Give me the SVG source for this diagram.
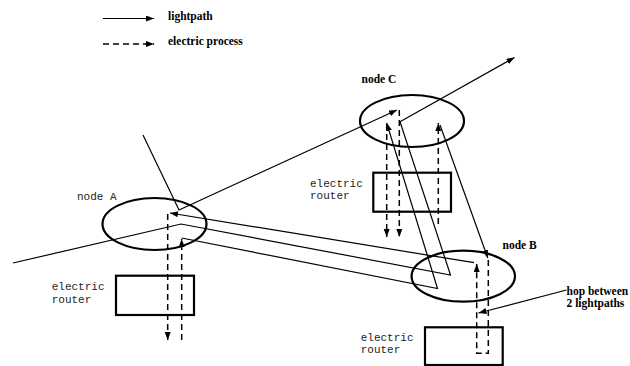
<svg xmlns="http://www.w3.org/2000/svg" width="630" height="366" viewBox="0 0 630 366">
<style>
.bg{fill:#fff}
.node{fill:none;stroke:#000;stroke-width:2.2}
.router{fill:none;stroke:#000;stroke-width:2.2}
.lp{fill:none;stroke:#000;stroke-width:1.2}
.ep{fill:none;stroke:#000;stroke-width:1.5;stroke-dasharray:6,4}
.lbl{font-family:"Liberation Serif",serif;font-weight:bold;font-size:11.5px;fill:#000}
.mono{font-family:"Liberation Mono",monospace;font-size:11px;fill:#222}
</style>
<defs>
<marker id="ah" markerUnits="userSpaceOnUse" markerWidth="9" markerHeight="7" refX="8" refY="3" orient="auto">
<path d="M0,0 L8,3 L0,6 z" fill="#000"/>
</marker>
</defs>
<rect class="bg" x="0" y="0" width="630" height="366"/>

<g id="legend">
<line class="lp" x1="103" y1="18.5" x2="154" y2="18.5" marker-end="url(#ah)"/>
<text class="lbl" x="168" y="20">lightpath</text>
<line class="ep" x1="103" y1="44" x2="154" y2="44" marker-end="url(#ah)"/>
<text class="lbl" x="168" y="45">electric process</text>
</g>

<g id="nodeA">
<ellipse class="node" cx="154.5" cy="224" rx="52" ry="26"/>
<text class="mono" x="77" y="200">node A</text>
</g>
<g id="routerA">
<rect class="router" x="116" y="275.7" width="78" height="39.3"/>
<text class="mono" x="51.7" y="289.5">electric</text>
<text class="mono" x="51.7" y="302.5">router</text>
</g>

<g id="nodeC">
<ellipse class="node" cx="412" cy="121" rx="52" ry="26"/>
<text class="lbl" x="361.5" y="83">node C</text>
</g>
<g id="routerC">
<rect class="router" x="373.3" y="172.7" width="77.7" height="39"/>
<text class="mono" x="310" y="186.5">electric</text>
<text class="mono" x="310" y="198.5">router</text>
</g>

<g id="nodeB">
<ellipse class="node" cx="463.3" cy="276.2" rx="51.7" ry="25.5"/>
<text class="lbl" x="502.5" y="249">node B</text>
</g>
<g id="routerB">
<rect class="router" x="425" y="327.3" width="77.7" height="37.7"/>
<text class="mono" x="360.7" y="341">electric</text>
<text class="mono" x="360.7" y="353">router</text>
</g>

<g id="hopLabel">
<text class="lbl" x="566.5" y="294.5">hop between</text>
<text class="lbl" x="566.5" y="306.5">2 lightpaths</text>
</g>

<g id="connectors">
<path class="lp" d="M143,135 L179,210 L397,110" marker-end="url(#ah)"/>
<path class="lp" d="M13,263 L181,224 L450.5,275 L400,121.7 L514.5,57.5" marker-end="url(#ah)"/>
<path class="lp" d="M181.7,238 L437.5,288.5 L386.7,123" marker-end="url(#ah)"/>
<path class="lp" d="M440,125 L487.8,258" marker-end="url(#ah)"/>
<path class="lp" d="M474,262.7 L170,213" marker-end="url(#ah)"/>
<path class="lp" d="M566.5,290 L478.5,313" marker-end="url(#ah)"/>

<path class="ep" d="M167.7,214 V340" marker-end="url(#ah)"/>
<path class="ep" d="M181.7,340 V239" marker-end="url(#ah)"/>
<path class="ep" d="M386.7,124 V237" marker-end="url(#ah)"/>
<path class="ep" d="M399.3,110 V237" marker-end="url(#ah)"/>
<path class="ep" d="M438.3,224 V123" marker-end="url(#ah)"/>
<path class="ep" d="M488.3,260 V353.3 H476.7 V264" marker-end="url(#ah)"/>
</g>
</svg>
